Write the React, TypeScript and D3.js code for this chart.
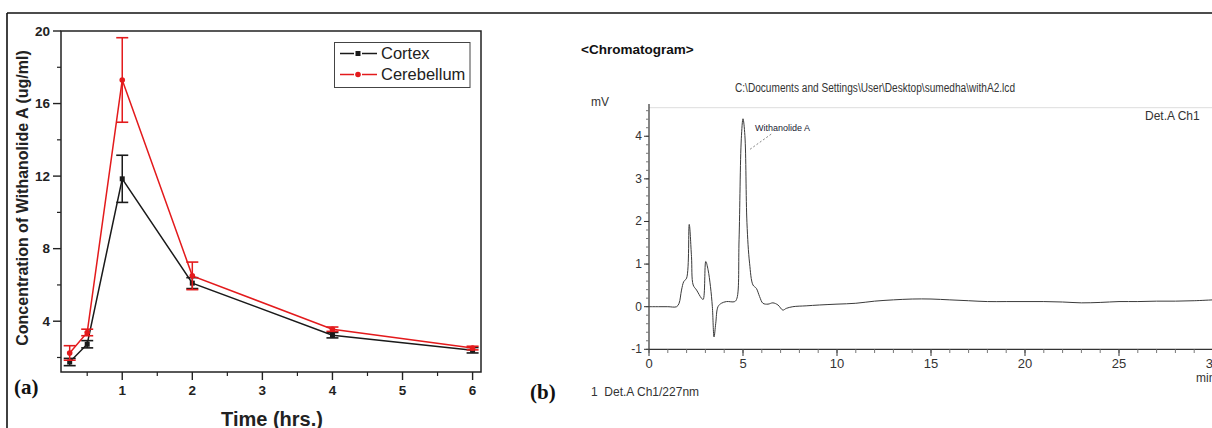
import React from "react";
import * as d3 from "d3";

// ---------- Panel (a) data ----------
const times = [0.25, 0.5, 1, 2, 4, 6];
const cortexMean = [1.75, 2.73, 11.85, 6.1, 3.23, 2.4];
const cortexErr = [0.2, 0.2, 1.3, 0.3, 0.15, 0.15];
const cerebMean = [2.25, 3.38, 17.3, 6.5, 3.56, 2.52];
const cerebErr = [0.4, 0.18, 2.33, 0.76, 0.12, 0.1];
const aYTicks = [4, 8, 12, 16, 20];
const aYMinor = [2, 6, 10, 14, 18];
const aXTicks = [1, 2, 3, 4, 5, 6];
const aXMinor = [0.5, 1.5, 2.5, 3.5, 4.5, 5.5];
const seriesNames = ["Cortex", "Cerebellum"];

// ---------- Panel (b) data ----------
const chromTime = [0, 0.5, 1, 1.47, 1.6, 1.73, 1.85, 2.0, 2.14, 2.26, 2.35, 2.53, 2.79, 2.88, 3.02, 3.14, 3.27, 3.37, 3.46, 3.55, 3.67, 3.85, 4.12, 4.56, 4.68, 4.79, 4.91, 5.0, 5.1, 5.21, 5.35, 5.53, 5.71, 5.88, 6.06, 6.33, 6.59, 6.86, 7.12, 7.3, 7.65, 8.36, 9.06, 10, 11, 12, 13, 14, 15, 16, 17, 18, 19, 20, 21, 22, 23, 24, 25, 26, 27, 28, 29, 30];
const chromMv = [0, 0, 0, 0, 0.08, 0.39, 0.59, 0.67, 1.93, 1.18, 0.51, 0.39, 0.2, 0.17, 1.06, 0.87, 0.47, 0, -0.71, -0.39, 0, 0.08, 0.12, 0.12, 0.2, 1.57, 3.94, 4.41, 4.02, 1.97, 1.02, 0.51, 0.43, 0.24, 0.08, 0.06, 0.09, 0.04, -0.08, -0.04, 0, 0.02, 0.04, 0.06, 0.08, 0.13, 0.16, 0.18, 0.18, 0.16, 0.14, 0.12, 0.12, 0.12, 0.12, 0.11, 0.09, 0.1, 0.12, 0.12, 0.13, 0.13, 0.14, 0.16];
const bXTicks = [0, 5, 10, 15, 20, 25, 30];
const bYTicks = [-1, 0, 1, 2, 3, 4];

export default function App() {
  // panel a scales
  const ax = d3.scaleLinear().domain([0.126, 6.12]).range([61, 481]);
  const ay = d3.scaleLinear().domain([1.2, 20]).range([372, 31]);
  const lineA = d3
    .line<number>()
    .x((_, i) => ax(times[i]))
    .y((d) => ay(d));

  // panel b scales
  const bx = d3.scaleLinear().domain([0, 30]).range([649, 1213]);
  const by = d3.scaleLinear().domain([-1, 4.67]).range([349.3, 107.7]);
  const lineB = d3
    .line<number>()
    .x((_, i) => bx(chromTime[i]))
    .y((d) => by(d))
    .curve(d3.curveCatmullRom.alpha(0.5));

  const bYMinor = d3.range(-1, 4.61, 0.2).map((v) => +v.toFixed(2));
  const bXMinor = d3.range(0, 31, 1);

  const series = [
    { name: seriesNames[0], mean: cortexMean, err: cortexErr, color: "#1a1a1a", marker: "square" },
    { name: seriesNames[1], mean: cerebMean, err: cerebErr, color: "#e31a1c", marker: "circle" },
  ];

  const sans = "'Liberation Sans', Arial, sans-serif";
  const serif = "'Liberation Serif', 'Times New Roman', serif";

  return (
    <svg
      width={1212}
      height={428}
      style={{ position: "absolute", left: 0, top: 0, background: "#fff" }}
    >
      <rect x={0} y={0} width={1212} height={428} fill="#fff" />
      {/* outer figure border */}
      <line x1={7} y1={13} x2={1212} y2={13} stroke="#111" strokeWidth={1.6} />
      <line x1={7} y1={13} x2={7} y2={428} stroke="#111" strokeWidth={1.6} />

      {/* ================= Panel (a) ================= */}
      <rect x={61} y={31} width={420} height={341} fill="none" stroke="#222" strokeWidth={1.5} />
      {aYTicks.map((t) => (
        <g key={"ay" + t}>
          <line x1={53} x2={61} y1={ay(t)} y2={ay(t)} stroke="#222" strokeWidth={1.4} />
          <text x={50} y={ay(t) + 4.5} textAnchor="end" fontFamily={sans} fontWeight="bold" fontSize={13.5} fill="#222">
            {t}
          </text>
        </g>
      ))}
      {aYMinor.map((t) => (
        <line key={"aym" + t} x1={57} x2={61} y1={ay(t)} y2={ay(t)} stroke="#222" strokeWidth={1.2} />
      ))}
      {aXTicks.map((t) => (
        <g key={"ax" + t}>
          <line x1={ax(t)} x2={ax(t)} y1={372} y2={380} stroke="#222" strokeWidth={1.4} />
          <text x={ax(t)} y={395} textAnchor="middle" fontFamily={sans} fontWeight="bold" fontSize={13.5} fill="#222">
            {t}
          </text>
        </g>
      ))}
      {aXMinor.map((t) => (
        <line key={"axm" + t} x1={ax(t)} x2={ax(t)} y1={372} y2={376} stroke="#222" strokeWidth={1.2} />
      ))}
      <text
        transform={`translate(28,198) rotate(-90)`}
        textAnchor="middle"
        fontFamily={sans}
        fontWeight="bold"
        fontSize={16}
        fill="#222"
      >
        Concentration of Withanolide A (ug/ml)
      </text>
      <text x={272} y={426} textAnchor="middle" fontFamily={sans} fontWeight="bold" fontSize={20} fill="#222">
        Time (hrs.)
      </text>
      <text x={14} y={394} fontFamily={serif} fontWeight="bold" fontSize={21} fill="#111">
        (a)
      </text>

      {series.map((s) => (
        <g key={s.name}>
          <path d={lineA(s.mean) || ""} fill="none" stroke={s.color} strokeWidth={1.5} />
          {s.mean.map((m, i) => {
            const cx = ax(times[i]);
            const top = ay(m + s.err[i]);
            const bot = ay(m - s.err[i]);
            return (
              <g key={i}>
                <line x1={cx} x2={cx} y1={top} y2={bot} stroke={s.color} strokeWidth={1.5} />
                <line x1={cx - 6} x2={cx + 6} y1={top} y2={top} stroke={s.color} strokeWidth={1.6} />
                <line x1={cx - 6} x2={cx + 6} y1={bot} y2={bot} stroke={s.color} strokeWidth={1.6} />
                {s.marker === "square" ? (
                  <rect x={cx - 2.5} y={ay(m) - 2.5} width={5} height={5} fill={s.color} />
                ) : (
                  <circle cx={cx} cy={ay(m)} r={2.8} fill={s.color} />
                )}
              </g>
            );
          })}
        </g>
      ))}

      {/* legend */}
      <rect x={334.5} y={42.5} width={135.5} height={45} fill="#fff" stroke="#444" strokeWidth={1} />
      {series.map((s, i) => {
        const ly = 53.5 + i * 21;
        return (
          <g key={"lg" + s.name}>
            <line x1={340} x2={354} y1={ly} y2={ly} stroke={s.color} strokeWidth={1.5} />
            <line x1={362} x2={377} y1={ly} y2={ly} stroke={s.color} strokeWidth={1.5} />
            {s.marker === "square" ? (
              <rect x={355.5} y={ly - 2.5} width={5} height={5} fill={s.color} />
            ) : (
              <circle cx={358} cy={ly} r={2.8} fill={s.color} />
            )}
            <text x={381} y={ly + 5.5} fontFamily={sans} fontSize={16.5} fill="#222">
              {s.name}
            </text>
          </g>
        );
      })}

      {/* ================= Panel (b) ================= */}
      <text x={581} y={54} fontFamily={sans} fontWeight="bold" fontSize={13.5} fill="#111">
        {"<Chromatogram>"}
      </text>
      <text
        x={875}
        y={92}
        textAnchor="middle"
        fontFamily={sans}
        fontSize={12}
        fill="#333"
        textLength={280}
        lengthAdjust="spacingAndGlyphs"
      >
        {"C:\\Documents and Settings\\User\\Desktop\\sumedha\\withA2.lcd"}
      </text>
      <text x={591} y={106} fontFamily={sans} fontSize={12} fill="#333">
        mV
      </text>
      <text x={1145} y={120} fontFamily={sans} fontSize={12} fill="#333">
        Det.A Ch1
      </text>
      <line x1={649} x2={1212} y1={107.7} y2={107.7} stroke="#ddd" strokeWidth={1} />
      {/* y axis */}
      <line x1={649} x2={649} y1={104} y2={349.3} stroke="#333" strokeWidth={1.2} />
      {bYMinor.map((v) => (
        <line key={"bym" + v} x1={646} x2={649} y1={by(v)} y2={by(v)} stroke="#777" strokeWidth={1} />
      ))}
      {bYTicks.map((t) => (
        <g key={"by" + t}>
          <line x1={644} x2={649} y1={by(t)} y2={by(t)} stroke="#333" strokeWidth={1} />
          <text x={642} y={by(t) + 4} textAnchor="end" fontFamily={sans} fontSize={12} fill="#333">
            {t}
          </text>
        </g>
      ))}
      {/* x axis */}
      <line x1={649} x2={1212} y1={349.3} y2={349.3} stroke="#333" strokeWidth={1.2} />
      {bXMinor.map((v) => (
        <line key={"bxm" + v} x1={bx(v)} x2={bx(v)} y1={349.3} y2={353} stroke="#777" strokeWidth={1} />
      ))}
      {bXTicks.map((t) => (
        <g key={"bx" + t}>
          <line x1={bx(t)} x2={bx(t)} y1={349.3} y2={356} stroke="#333" strokeWidth={1} />
          <text x={bx(t)} y={368} textAnchor="middle" fontFamily={sans} fontSize={13} fill="#333">
            {t}
          </text>
        </g>
      ))}
      <text x={1196} y={382} fontFamily={sans} fontSize={12} fill="#333">
        min
      </text>
      <path d={lineB(chromMv) || ""} fill="none" stroke="#3a3a3a" strokeWidth={1} />
      {/* peak label */}
      <line
        x1={bx(6.5)}
        x2={bx(5.3)}
        y1={by(4.05)}
        y2={by(3.67)}
        stroke="#666"
        strokeWidth={0.8}
        strokeDasharray="2,2"
      />
      <text x={755} y={131} fontFamily={sans} fontSize={9} fill="#223">
        Withanolide A
      </text>
      <text x={530} y={399} fontFamily={serif} fontWeight="bold" fontSize={21} fill="#111">
        (b)
      </text>
      <text x={591} y={396} fontFamily={sans} fontSize={12} fill="#333">
        {"1\u00A0\u00A0Det.A Ch1/227nm"}
      </text>
    </svg>
  );
}
